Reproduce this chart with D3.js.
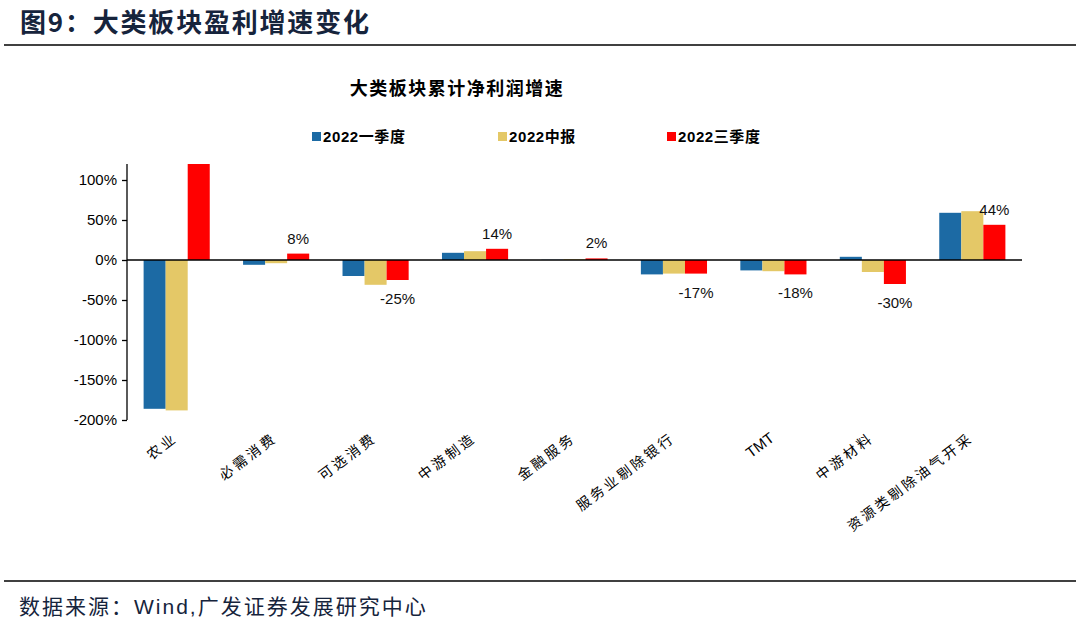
<!DOCTYPE html>
<html>
<head>
<meta charset="utf-8">
<script src="https://cdn.jsdelivr.net/npm/d3@7"></script>
<style>
  body { margin: 0; background: #fff; }
  svg { display: block; }
</style>
</head>
<body>
<svg id="chart" width="1080" height="626"></svg>
<script>
// data
const categories = ["农业", "必需消费", "可选消费", "中游制造", "金融服务", "服务业剔除银行", "TMT", "中游材料", "资源类剔除油气开采"];
const seriesNames = ["2022一季度", "2022中报", "2022三季度"];
const q1 = [-186, -6, -20, 9, 0.3, -18, -13, 4, 59];
const h1 = [-188, -4, -31, 11, 1, -17, -14, -15, 61];
const q3 = [120, 8, -25, 14, 2, -17, -18, -30, 44];
const labelled = [false, true, true, true, true, true, true, true, true];
const yTicks = [100, 50, 0, -50, -100, -150, -200];
const colors = ["#1c6aa4", "#e4c867", "#ff0000"];

const svg = d3.select("#chart");
const sans = "Arial, 'Liberation Sans', 'Noto Sans CJK SC', sans-serif";
const cjk = "'Noto Sans CJK SC', sans-serif";
const pct = v => Math.round(v) + "%";   // plain hyphen for negatives

// header
svg.append("text").attr("x", 20).attr("y", 32)
  .attr("font-family", cjk).attr("font-weight", 700).attr("font-size", 26)
  .attr("letter-spacing", 1.8).attr("fill", "#16243c").text("图9：大类板块盈利增速变化");
svg.append("line").attr("x1", 4).attr("x2", 1076).attr("y1", 45).attr("y2", 45)
  .attr("stroke", "#000").attr("stroke-width", 1.5);

// footer
svg.append("line").attr("x1", 4).attr("x2", 1076).attr("y1", 581).attr("y2", 581)
  .attr("stroke", "#000").attr("stroke-width", 1.5);
svg.append("text").attr("x", 19).attr("y", 614)
  .attr("font-family", sans).attr("font-size", 21).attr("letter-spacing", 2)
  .attr("fill", "#16243c").text("数据来源：Wind,广发证券发展研究中心");

// chart title
svg.append("text").attr("x", 457).attr("y", 95).attr("text-anchor", "middle")
  .attr("font-family", cjk).attr("font-weight", 700).attr("font-size", 18)
  .attr("letter-spacing", 1.5).attr("fill", "#000").text("大类板块累计净利润增速");

// legend
const legendX = [312, 498, 667];
const lg = svg.append("g");
seriesNames.forEach((name, i) => {
  lg.append("rect").attr("x", legendX[i]).attr("y", 132).attr("width", 9).attr("height", 9)
    .attr("fill", colors[i]);
  lg.append("text").attr("x", legendX[i] + 11).attr("y", 142)
    .attr("font-family", sans).attr("font-weight", 700).attr("font-size", 15)
    .attr("letter-spacing", 0.6).text(name);
});

// scales
const x0 = d3.scaleBand().domain(categories).range([127, 1022]).paddingInner(0.335).paddingOuter(0.167);
const x1 = d3.scaleBand().domain([0, 1, 2]).range([0, x0.bandwidth()]);
const y = d3.scaleLinear().domain([-200, 120]).range([420, 164]);

// y axis
const yAxis = d3.axisLeft(y).tickValues(yTicks).tickFormat(pct).tickSize(5).tickPadding(5);
const ga = svg.append("g").attr("transform", "translate(127,0)").call(yAxis);
ga.select(".domain").attr("d", `M0,${y(120)}V${y(-200)}`).attr("stroke", "#000").attr("stroke-width", 1.3);
ga.selectAll(".tick line").attr("stroke", "#000").attr("stroke-width", 1.3);
ga.selectAll(".tick text").attr("font-family", sans).attr("font-size", 15).attr("fill", "#000");

// bars
const series = [q1, h1, q3];
const rows = [];
series.forEach((vals, s) => vals.forEach((v, i) => rows.push({ c: categories[i], s, v })));
svg.append("g").selectAll("rect").data(rows).join("rect")
  .attr("x", d => x0(d.c) + x1(d.s))
  .attr("width", x1.bandwidth())
  .attr("y", d => y(Math.max(0, d.v)))
  .attr("height", d => Math.abs(y(d.v) - y(0)))
  .attr("fill", d => colors[d.s]);

// zero line
svg.append("line").attr("x1", 127).attr("x2", 1022).attr("y1", y(0)).attr("y2", y(0))
  .attr("stroke", "#000").attr("stroke-width", 1.3);

// data labels on the latest series
svg.append("g").selectAll("text").data(q3.map((v, i) => ({ v, i })).filter(d => labelled[d.i])).join("text")
  .attr("x", d => x0(categories[d.i]) + x1(2) + x1.bandwidth() / 2)
  .attr("y", d => d.v >= 0 ? y(d.v) - 10 : y(d.v) + 24)
  .attr("text-anchor", "middle")
  .attr("font-family", sans).attr("font-size", 15).attr("fill", "#111")
  .text(d => pct(d.v));

// category labels
svg.append("g").selectAll("text").data(categories).join("text")
  .attr("transform", d => `translate(${x0(d) + x0.bandwidth() / 2 + 2},${440}) rotate(-37)`)
  .attr("text-anchor", "end")
  .attr("font-family", d => d === "TMT" ? sans : cjk)
  .attr("font-size", d => d === "TMT" ? 15 : 14).attr("letter-spacing", d => d === "TMT" ? 0 : 3)
  .attr("fill", "#000")
  .text(d => d);
</script>
</body>
</html>
